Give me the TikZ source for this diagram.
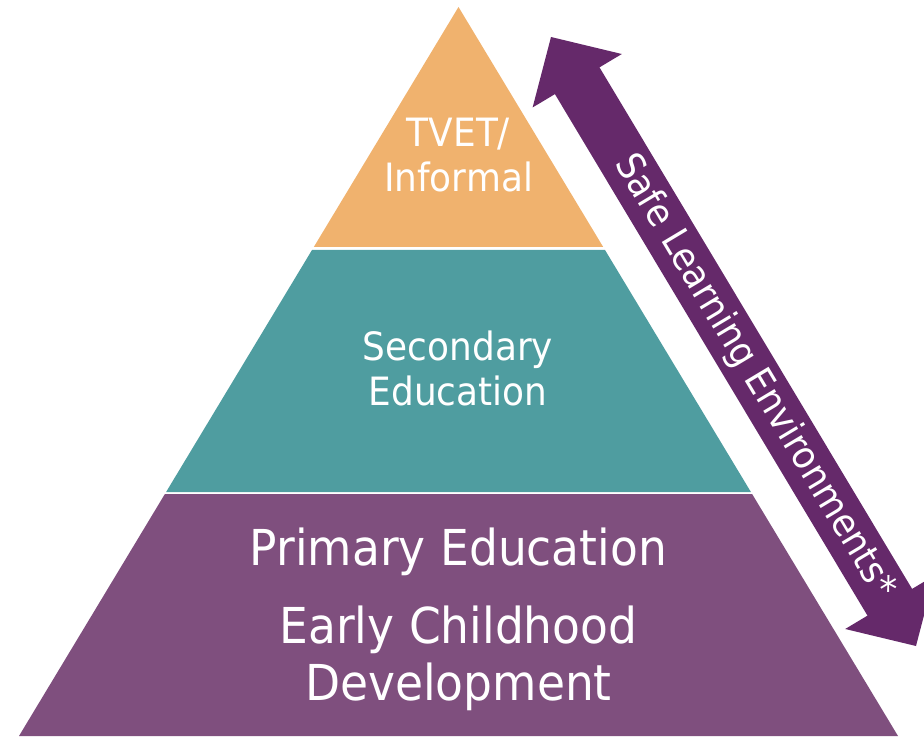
\documentclass[tikz,border=0pt]{standalone}
\usepackage{fontspec}
\newfontfamily\tfont{DejaVu Sans}[FakeStretch=0.92]
\usetikzlibrary{calc}
\definecolor{tvetorange}{HTML}{F0B26E}
\definecolor{secteal}{HTML}{4F9DA0}
\definecolor{primpurple}{HTML}{7F4F7E}
\definecolor{arrowpurple}{HTML}{65296A}
\begin{document}
\begin{tikzpicture}[x=1pt,y=-1pt,
  tierlabel/.style={text=white, align=center, inner sep=0pt},
  smalltxt/.style={font=\tfont\fontsize{39}{45}\selectfont},
  bigtxt/.style={font=\tfont\fontsize{49.5}{57}\selectfont},
]
\useasboundingbox (0,0) rectangle (924,738);
\clip (0,0) rectangle (924,738);
% pyramid tiers
\fill[tvetorange] (458.5,7) -- (603.2,247) -- (313.8,247) -- cycle;
\fill[secteal] (312.0,250) -- (605.0,250) -- (750.9,492) -- (166.1,492) -- cycle;
\fill[primpurple] (164.9,494) -- (752.1,494) -- (898,736) -- (19,736) -- cycle;
% tier labels (base anchor = baseline of the last line)
\node[tierlabel, smalltxt, anchor=base] (tvetlbl) at (458.5,192) {TVET/\\Informal};
\node[tierlabel, smalltxt, anchor=base] (seclbl) at (458,405) {Secondary\\Education};
\node[tierlabel, bigtxt, anchor=base] (primlbl) at (458.5,565) {Primary Education};
\node[tierlabel, bigtxt, anchor=base] (ecdlbl) at (458.5,700) {Early Childhood\\Development};
% double arrow
\coordinate (arrowTop) at (551,37);
\coordinate (arrowBot) at (916,646);
\coordinate (headT) at ($(arrowTop)!51pt!(arrowBot)$);
\coordinate (headB) at ($(arrowBot)!51pt!(arrowTop)$);
\fill[arrowpurple] (arrowTop)
  -- ($(headT)!52pt!90:(arrowBot)$) -- ($(headT)!26pt!90:(arrowBot)$)
  -- ($(headB)!26pt!-90:(arrowTop)$) -- ($(headB)!52pt!-90:(arrowTop)$)
  -- (arrowBot)
  -- ($(headB)!52pt!90:(arrowTop)$) -- ($(headB)!26pt!90:(arrowTop)$)
  -- ($(headT)!26pt!-90:(arrowBot)$) -- ($(headT)!52pt!-90:(arrowBot)$)
  -- cycle;
\path (arrowTop) -- (arrowBot)
  node[pos=0.558, sloped, text=white, inner sep=0pt, font=\tfont\fontsize{38}{44}\selectfont] (safelbl) {Safe Learning Environments*};
\end{tikzpicture}
\end{document}
